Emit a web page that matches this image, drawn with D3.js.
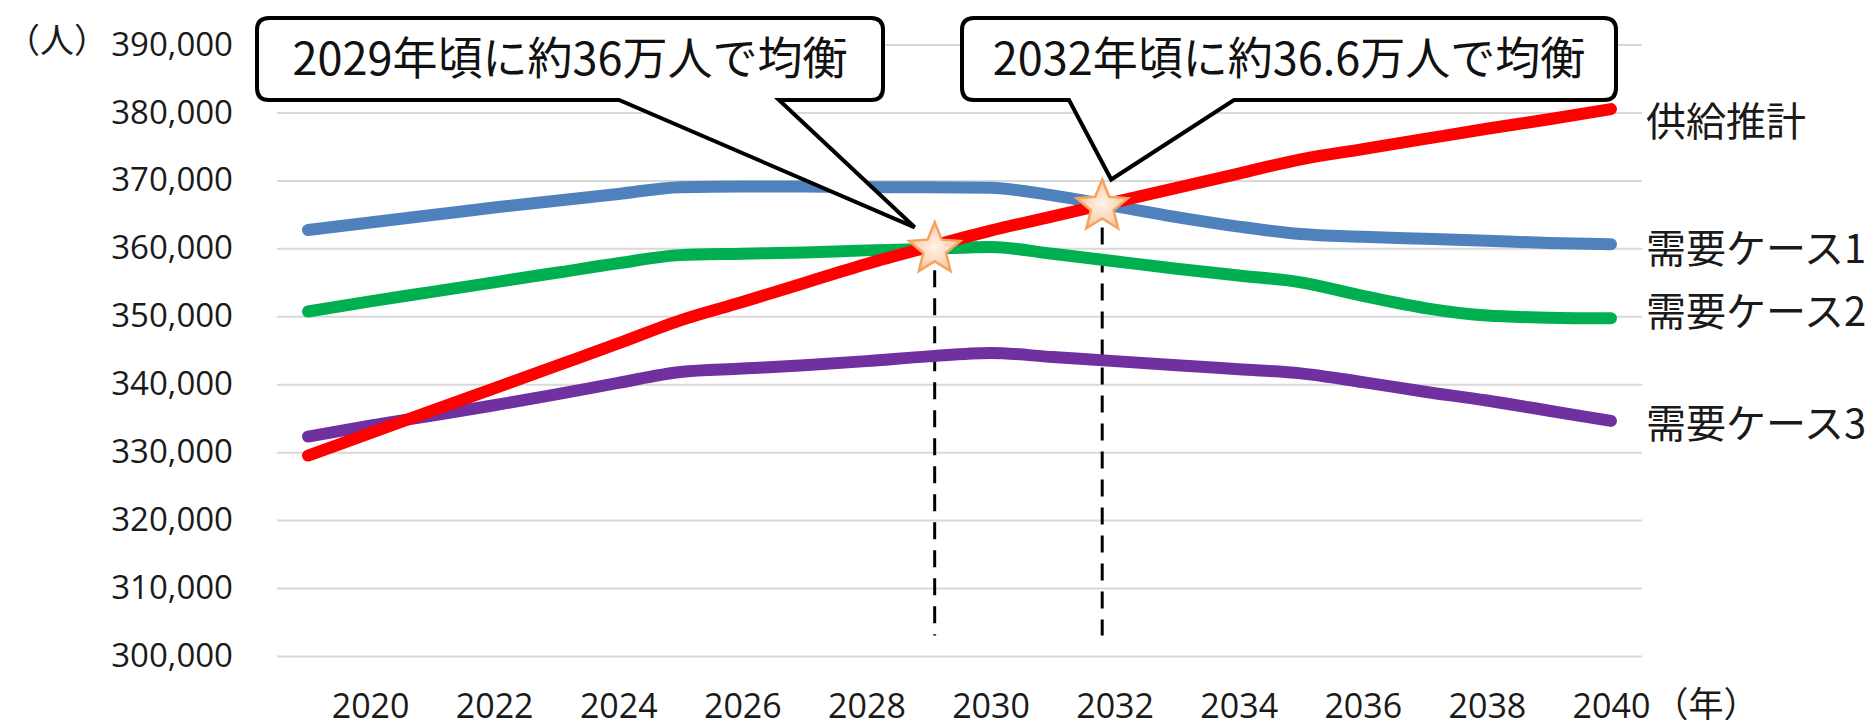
<!DOCTYPE html>
<html><head><meta charset="utf-8">
<script src="https://cdn.jsdelivr.net/npm/d3@7/dist/d3.min.js"></script>
<style>
html,body{margin:0;padding:0;background:#fff;}
svg{display:block;}
.tick text{fill:#1a1a1a;}
</style></head>
<body><svg id="chart" width="1876" height="727"></svg>
<script>
// ---- data ----
const years = [2019,2020,2021,2022,2023,2024,2025,2026,2027,2028,2029,2030,2031,2032,2033,2034,2035,2036,2037,2038,2039,2040];
const supply = [329500,332800,336100,339400,342700,346000,349400,352100,354900,357700,360200,362600,364700,366800,368900,371000,373100,374600,376100,377600,379000,380500];
const demand1 = [362700,363800,364900,366000,367000,368000,369000,369100,369100,369000,369000,368900,367800,366200,364600,363200,362100,361700,361400,361100,360800,360600];
const demand2 = [350700,352200,353600,355000,356400,357800,359000,359200,359400,359700,359900,360200,359200,358100,357000,356000,355000,353000,351200,350100,349800,349700];
const demand3 = [332300,333900,335400,336900,338500,340200,341800,342300,342800,343400,344100,344600,344000,343400,342800,342200,341600,340300,338900,337600,336100,334600];
const seriesNames = ["供給推計","需要ケース1","需要ケース2","需要ケース3"];
const seriesColors = ["#ff0000","#4f81bd","#00b050","#7030a0"];
const yTicks = [300000,310000,320000,330000,340000,350000,360000,370000,380000,390000];
const xTicks = [2020,2022,2024,2026,2028,2030,2032,2034,2036,2038,2040];
const balanceYears = [2029.1, 2031.8];
const balanceValues = [360000, 366300];
const calloutTexts = ["2029年頃に約36万人で均衡","2032年頃に約36.6万人で均衡"];
const yUnit = "（人）";
const xUnit = "（年）";

// ---- layout ----
const L = 277, R = 1642, T = 44.5, B = 656;
const svg = d3.select("#chart");
const x = d3.scaleLinear().domain([2018.5, 2040.5]).range([L, R]);
const y = d3.scaleLinear().domain([300000, 390000]).range([B, T]);

// gridlines + y labels
const yAxis = svg.append("g").attr("transform", `translate(${L},0)`)
  .call(d3.axisLeft(y).tickValues(yTicks).tickFormat(d3.format(",")).tickSize(-(R-L)).tickPadding(44));
yAxis.select(".domain").remove();
yAxis.selectAll(".tick line").attr("stroke","#d9d9d9").attr("stroke-width",2);
yAxis.selectAll(".tick text").attr("font-family","'Open Sans', sans-serif").attr("font-size",33);

// x labels
const xAxis = svg.append("g").attr("transform", `translate(0,${B})`)
  .call(d3.axisBottom(x).tickValues(xTicks).tickFormat(d3.format("d")).tickSize(0).tickPadding(38));
xAxis.select(".domain").remove();
xAxis.selectAll(".tick text").attr("font-family","'Open Sans', sans-serif").attr("font-size",34);

// unit labels
svg.append("text").attr("x",57).attr("y",41).attr("dy","0.36em").attr("text-anchor","middle")
  .attr("font-family","'Noto Sans CJK JP'").attr("font-size",34).attr("fill","#1a1a1a").text(yUnit);
svg.append("text").attr("x",1706).attr("y",704).attr("dy","0.36em").attr("text-anchor","middle")
  .attr("font-family","'Noto Sans CJK JP'").attr("font-size",35).attr("fill","#1a1a1a").text(xUnit);

// dashed verticals
balanceYears.forEach((yr,i)=>{
  svg.append("line").attr("x1",x(yr)).attr("x2",x(yr))
    .attr("y1",y(balanceValues[i])+22).attr("y2",y(303000))
    .attr("stroke","#000").attr("stroke-width",3).attr("stroke-dasharray","17,11");
});

// lines (draw order: blue, green, purple, red on top)
const allSeries = [supply, demand1, demand2, demand3];
const line = d3.line().x((d,i)=>x(years[i])).y(d=>y(d)).curve(d3.curveMonotoneX);
[1,2,3,0].forEach(k=>{
  svg.append("path").datum(allSeries[k]).attr("d",line)
    .attr("fill","none").attr("stroke",seriesColors[k]).attr("stroke-width",12)
    .attr("stroke-linecap","round").attr("stroke-linejoin","round");
});

// series labels
const labelDy = [13, 4, -7, 3];
allSeries.forEach((s,k)=>{
  svg.append("text").attr("x",1646).attr("y",y(s[s.length-1])+labelDy[k]).attr("dy","0.36em")
    .attr("font-family","'Noto Sans CJK JP'").attr("font-size",40).attr("fill","#1a1a1a").text(seriesNames[k]);
});

// stars
const defs = svg.append("defs");
const grad = defs.append("radialGradient").attr("id","starG");
grad.append("stop").attr("offset","0%").attr("stop-color","#fff3ea");
grad.append("stop").attr("offset","100%").attr("stop-color","#f9c8a0");
function starPath(cx,cy,ro,ri){
  const pts=[];
  for(let i=0;i<10;i++){const r=i%2?ri:ro;const a=-Math.PI/2+i*Math.PI/5;pts.push([cx+r*Math.cos(a),cy+r*Math.sin(a)]);}
  return "M"+pts.map(p=>p.join(",")).join("L")+"Z";
}
balanceYears.forEach((yr,i)=>{
  svg.append("path").attr("d",starPath(x(yr),y(balanceValues[i])+1,27,12))
    .attr("fill","url(#starG)").attr("stroke","#f4a460").attr("stroke-width",2.5).attr("stroke-linejoin","miter");
});

// callouts
function calloutPath(x0,y0,x1,y1,r,b1,b2,tx,ty){
  return `M${x0+r},${y0}H${x1-r}Q${x1},${y0} ${x1},${y0+r}V${y1-r}Q${x1},${y1} ${x1-r},${y1}`+
         `H${b2}L${tx},${ty}L${b1},${y1}H${x0+r}Q${x0},${y1} ${x0},${y1-r}V${y0+r}Q${x0},${y0} ${x0+r},${y0}Z`;
}
const boxes = [
  {x0:257,x1:883,b1:619,b2:779,tx:x(balanceYears[0])-20,ty:y(balanceValues[0])-21},
  {x0:962,x1:1616,b1:1069,b2:1234,tx:x(balanceYears[1])+9,ty:y(balanceValues[1])-26}
];
boxes.forEach((b,i)=>{
  svg.append("path").attr("d",calloutPath(b.x0,18,b.x1,100,12,b.b1,b.b2,b.tx,b.ty))
    .attr("fill","#fff").attr("stroke","#000").attr("stroke-width",4).attr("stroke-linejoin","miter");
  svg.append("text").attr("x",(b.x0+b.x1)/2).attr("y",59).attr("dy","0.36em").attr("text-anchor","middle")
    .attr("font-family","'Noto Sans CJK JP'").attr("font-size",45).attr("fill","#111").text(calloutTexts[i]);
});
</script></body></html>
